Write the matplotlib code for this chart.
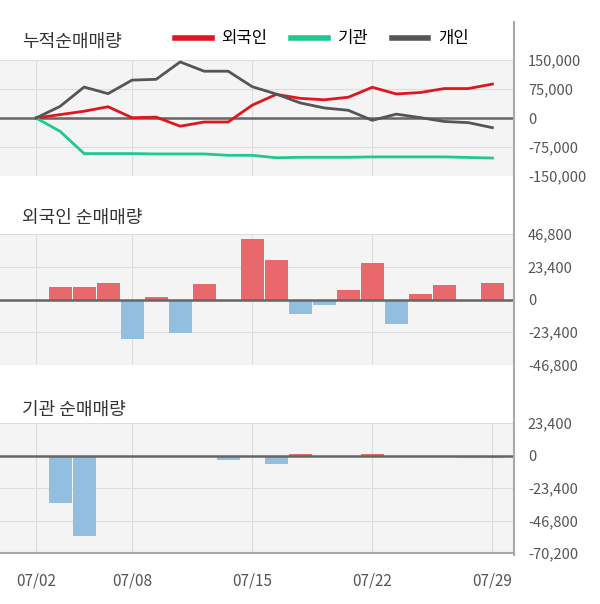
import matplotlib
matplotlib.use("Agg")
import matplotlib.pyplot as plt
import numpy as np

plt.rcParams['font.family'] = 'Noto Sans CJK KR'

dates = ["07/02","07/03","07/04","07/05","07/08","07/09","07/10","07/11","07/12",
         "07/15","07/16","07/17","07/18","07/19","07/22","07/23","07/24","07/25","07/26","07/29"]
foreign = [0, 8750, 8750, 11600, -28400, 1650, -23600, 10900, 0, 43500, 27900,
           -10200, -3800, 6600, 25800, -17300, 3800, 10200, 0, 11600]
inst = [0, -34400, -57600, 0, 0, -1000, 0, 0, -3500, 0, -6300, 1200, 0, 0, 1000,
        0, 0, 0, -1500, -1500]
indiv_cum = [0, 30000, 80000, 63000, 98000, 100000, 145000, 121000, 121000, 81000,
             62000, 39000, 26000, 20000, -6000, 10000, 1000, -9000, -12000, -25000]
tick_labels = ["07/02", "07/08", "07/15", "07/22", "07/29"]

x = np.arange(len(dates))
tick_pos = [dates.index(t) for t in tick_labels]
W, H = 600, 604
fig = plt.figure(figsize=(6, 6.04), dpi=100)

def ax_px(l, t, r, b):
    return fig.add_axes([l / W, 1 - b / H, (r - l) / W, (b - t) / H])

bg = '#f4f4f4'; grid = '#dddddd'; tc = '#555555'
xlim = (-1.5, 19.9)

def style(ax, ylim, yticks, ylabels):
    ax.set_facecolor(bg)
    ax.set_xlim(*xlim); ax.set_ylim(*ylim)
    ax.set_yticks(yticks)
    ax.set_yticklabels(ylabels, fontsize=10.5, color=tc)
    ax.yaxis.tick_right()
    ax.tick_params(axis='y', length=0, pad=10)
    ax.set_xticks(tick_pos[:-1])
    ax.tick_params(axis='x', length=0, labelbottom=False)
    ax.grid(True, color=grid, lw=0.8)
    ax.set_axisbelow(True)
    for s in ax.spines.values():
        s.set_visible(False)
    ax.axhline(0, color='#666666', lw=1.8, zorder=3)

ax1 = ax_px(0, 60, 514, 176)
style(ax1, (-150000, 150000), [150000, 75000, 0, -75000, -150000],
      ["150,000", "75,000", "0", "-75,000", "-150,000"])
l1, = ax1.plot(x, np.cumsum(foreign), color='#e0161e', lw=2, label='외국인', zorder=4)
l2, = ax1.plot(x, np.cumsum(inst), color='#1fc98a', lw=2, label='기관', zorder=4)
l3, = ax1.plot(x, indiv_cum, color='#555555', lw=2, label='개인', zorder=4)
leg = fig.legend(handles=[l1, l2, l3], loc='center', bbox_to_anchor=(322 / W, 1 - 39 / H),
                 ncol=3, frameon=False, fontsize=12, handlelength=2.2, columnspacing=1.4,
                 handletextpad=0.6)
for h in leg.get_lines():
    h.set_linewidth(4)

def bars(ax, vals):
    v = np.array(vals)
    cols = ['#e9686b' if a > 0 else '#92bfe0' for a in v]
    ax.bar(x, v, width=0.96, color=cols, zorder=2)

ax2 = ax_px(0, 234, 514, 365)
style(ax2, (-46800, 46800), [46800, 23400, 0, -23400, -46800],
      ["46,800", "23,400", "0", "-23,400", "-46,800"])
bars(ax2, foreign)

ax3 = ax_px(0, 423, 514, 553)
style(ax3, (-70200, 23400), [23400, 0, -23400, -46800, -70200],
      ["23,400", "0", "-23,400", "-46,800", "-70,200"])
bars(ax3, inst)
ax3.set_xticks(tick_pos)
ax3.set_xticklabels(tick_labels, fontsize=11, color=tc)
ax3.tick_params(axis='x', labelbottom=True, pad=14)
ax3.spines['bottom'].set_visible(True); ax3.spines['bottom'].set_color('#aaaaaa')
ax3.spines['bottom'].set_linewidth(1.5)

fig.add_artist(plt.Line2D([514 / W, 514 / W], [1 - 22 / H, 1 - 555 / H],
                          color='#aaaaaa', lw=1.5, transform=fig.transFigure))

for ty, txt in [(42, '누적순매매량'), (218, '외국인 순매매량'), (410, '기관 순매매량')]:
    fig.text(22 / W, 1 - ty / H, txt, fontsize=13, color='#333333', va='center')

fig.savefig('out.png', dpi=100, facecolor='white')
